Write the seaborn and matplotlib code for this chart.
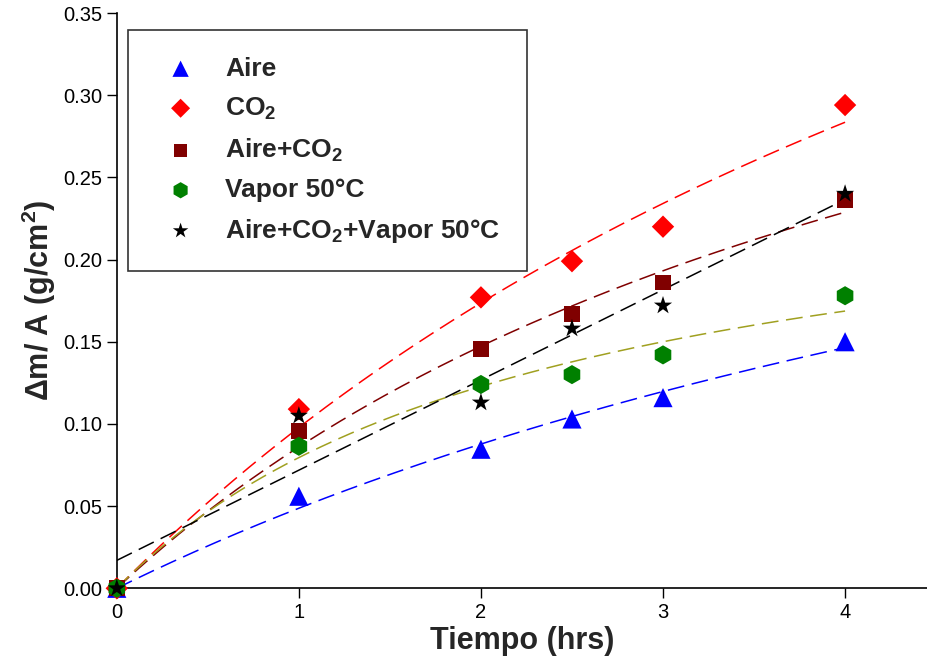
import numpy as np
import pandas as pd
import matplotlib
matplotlib.use('Agg')
import matplotlib.pyplot as plt
import seaborn as sns

tiempo = [0, 1, 2, 2.5, 3, 4]
aire = [0.0, 0.056, 0.0846, 0.103, 0.116, 0.150]
co2 = [0.0, 0.109, 0.177, 0.199, 0.220, 0.294]
aire_co2 = [0.0, 0.0956, 0.1455, 0.167, 0.186, 0.236]
vapor = [0.0, 0.0864, 0.124, 0.130, 0.142, 0.178]
aire_co2_vapor = [0.0, 0.105, 0.113, 0.158, 0.172, 0.240]

labels = ['Aire', r'CO$_\mathbf{2}$', r'Aire+CO$_\mathbf{2}$', 'Vapor 50°C',
          r'Aire+CO$_\mathbf{2}$+Vapor 50°C']
series = [aire, co2, aire_co2, vapor, aire_co2_vapor]
markers = ['^', 'D', 's', 'h', '*']
mcolors = ['#0000ff', '#ff0000', '#800000', '#008000', '#000000']
lcolors = ['#0000ff', '#ff0000', '#800000', '#a0a020', '#000000']
msizes = [190, 130, 130, 190, 190]


def fit_hyperbola(x, y):
    # y = a*x/(b+x), least squares: a is linear for a given b
    best = None
    for b in np.linspace(0.05, 30, 6000):
        f = x / (b + x)
        a = np.sum(y * f) / np.sum(f * f)
        err = np.sum((y - a * f) ** 2)
        if best is None or err < best[0]:
            best = (err, a, b)
    return best[1], best[2]


sns.set_style('ticks')
plt.rcParams['font.family'] = ['Liberation Sans', 'DejaVu Sans']
plt.rcParams['mathtext.fontset'] = 'custom'
plt.rcParams['mathtext.rm'] = 'Liberation Sans'
plt.rcParams['mathtext.bf'] = 'Liberation Sans:bold'

fig = plt.figure(figsize=(9.27, 6.67), dpi=100)
ax = fig.add_axes([0.126, 0.118, 0.874, 0.8625])

x = np.array(tiempo, dtype=float)
xf = np.linspace(0, 4, 200)
for i, y in enumerate(series):
    y = np.array(y)
    if i == 4:
        c = np.polyfit(x, y, 1)
        yf = np.polyval(c, xf)
    else:
        a, b = fit_hyperbola(x, y)
        yf = a * xf / (b + xf)
    sns.lineplot(x=xf, y=yf, ax=ax, color=lcolors[i], lw=1.1, legend=False)
    ax.lines[-1].set_dashes([11, 5])

for i, y in enumerate(series):
    sns.scatterplot(x=tiempo, y=y, ax=ax, marker=markers[i], color=mcolors[i],
                    s=msizes[i], edgecolor='none', label=labels[i],
                    clip_on=False, zorder=5)

ax.set_xlim(0, 4.45)
ax.set_ylim(0, 0.35)
ax.set_xticks([0, 1, 2, 3, 4])
ax.set_yticks(np.arange(0, 0.351, 0.05))
ax.yaxis.set_major_formatter(matplotlib.ticker.FormatStrFormatter('%.2f'))
ax.tick_params(direction='out', length=7, width=1, labelsize=14.5, colors='black')
for s in ['top', 'right']:
    ax.spines[s].set_visible(False)
for s in ['left', 'bottom']:
    ax.spines[s].set_linewidth(1.2)
    ax.spines[s].set_color('black')

ax.set_xlabel('Tiempo (hrs)', fontsize=22, fontweight='bold', labelpad=3)
ax.set_ylabel(r'Δm/ A (g/cm$^\mathbf{2}$)', fontsize=22, fontweight='bold', labelpad=4)

leg = ax.legend(loc='upper left', bbox_to_anchor=(0.0136, 0.970), borderaxespad=0,
                fancybox=False, frameon=True, edgecolor='black',
                prop={'weight': 'bold', 'size': 19}, handletextpad=0.7,
                labelspacing=0.55, borderpad=1.0, markerscale=0.85)
leg.get_frame().set_linewidth(1.2)

fig.savefig('out.png', dpi=100)
